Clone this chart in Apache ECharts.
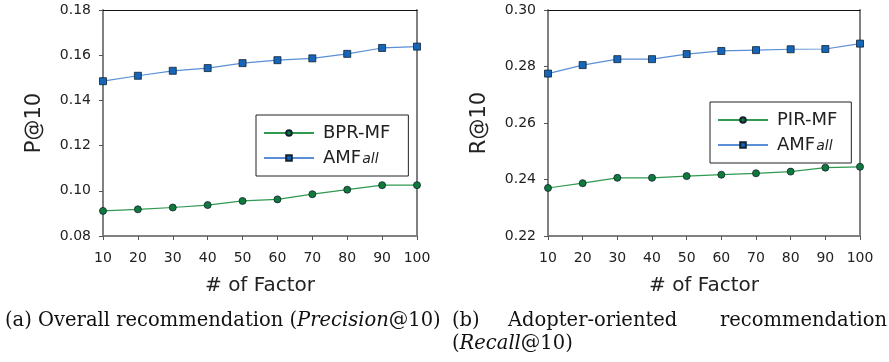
<!DOCTYPE html>
<html><head><meta charset="utf-8">
<script src="https://cdn.jsdelivr.net/npm/echarts@6/dist/echarts.min.js"></script>
<style>html,body{margin:0;padding:0;background:#fff}#c{width:889px;height:362px}</style>
</head><body><div id="c"></div>
<script>
const factors = [10,20,30,40,50,60,70,80,90,100];
const precBPR = [0.0911,0.0918,0.0926,0.0937,0.0955,0.0962,0.0985,0.1005,0.1025,0.1025];
const precAMF = [0.1485,0.1509,0.1531,0.1543,0.1565,0.1578,0.1586,0.1606,0.1632,0.1638];
const recPIR = [0.2370,0.2387,0.2406,0.2406,0.2412,0.2417,0.2422,0.2428,0.2442,0.2445];
const recAMF = [0.2775,0.2805,0.2826,0.2826,0.2844,0.2855,0.2858,0.2861,0.2862,0.2881];
const yTicksA = [0.08,0.10,0.12,0.14,0.16,0.18];
const yTicksB = [0.22,0.24,0.26,0.28,0.30];

const pairs = v => factors.map((f,i)=>[f,v[i]]);
const GREEN_LINE='#2f9a50', GREEN_FILL='#0f7a3a', BLUE_LINE='#5a8fd6', BLUE_FILL='#1565b8';
const SANS='"DejaVu Sans", sans-serif';
const SERIF='"DejaVu Serif", serif';
const CAP=19.5;

function xAx(gi){
  return {type:'value', gridIndex:gi, min:10, max:100, interval:10,
    name:'# of Factor', nameLocation:'middle', nameGap:40,
    nameTextStyle:{fontFamily:SANS,fontSize:20,color:'#222'},
    axisLine:{lineStyle:{color:'#808080',width:2}},
    axisTick:{show:true,length:4,lineStyle:{color:'#555',width:1}},
    axisLabel:{fontFamily:SANS,fontSize:14,color:'#222',margin:15},
    splitLine:{show:false}};
}
function xTop(gi){
  return {type:'value', gridIndex:gi, position:'top', min:10, max:100,
    axisLine:{show:true,lineStyle:{color:'#111',width:1}},
    axisTick:{show:false}, axisLabel:{show:false}, splitLine:{show:false}};
}
function yAx(gi,min,max,name){
  return {type:'value', gridIndex:gi, min:min, max:max, interval:0.02,
    name:name, nameLocation:'middle', nameGap:58,
    nameTextStyle:{fontFamily:SANS,fontSize:21,color:'#222'},
    axisLine:{show:true,lineStyle:{color:'#808080',width:2}},
    axisTick:{show:true,length:4,lineStyle:{color:'#555',width:1}},
    axisLabel:{fontFamily:SANS,fontSize:14,color:'#222',margin:12,
      formatter:v=>v.toFixed(2)},
    splitLine:{show:false}};
}
function yRight(gi,min,max){
  return {type:'value', gridIndex:gi, position:'right', min:min, max:max,
    axisLine:{show:true,lineStyle:{color:'#808080',width:2}},
    axisTick:{show:false}, axisLabel:{show:false}, splitLine:{show:false}};
}
function ser(name,data,xi,yi,lc,fc,sym){
  return {type:'line', name:name, xAxisIndex:xi, yAxisIndex:yi, data:data,
    symbol:sym, symbolSize:7, showSymbol:true,
    lineStyle:{color:lc,width:1.2}, itemStyle:{color:fc,borderColor:'#123',borderWidth:0.8},
    emphasis:{disabled:true}, animation:false};
}
const legendText = {fontFamily:SANS,fontSize:18,color:'#222',padding:[0,0,0,4],lineHeight:18,
  rich:{n:{fontFamily:SANS,fontSize:18,color:'#222',lineHeight:18},i:{fontFamily:SANS,fontSize:14,fontStyle:'italic',color:'#222',padding:[3,0,0,1],lineHeight:18}}};
const legFmt = n => n==='AMFall' ? '{n|AMF}{i|all}' : n;
const capStyle = (t,extra) => Object.assign({text:t,fontFamily:SERIF,fontSize:CAP,fill:'#111',verticalAlign:'middle',
  rich:{it:{fontFamily:SERIF,fontSize:CAP,fontStyle:'italic',fill:'#111'}}},extra||{});

const option = {
  backgroundColor:'#fff', animation:false,
  grid:[{left:103,top:10,width:314,height:226},{left:548,top:10,width:312,height:226}],
  xAxis:[xAx(0),xAx(1),xTop(0),xTop(1)],
  yAxis:[yAx(0,yTicksA[0],yTicksA[yTicksA.length-1],'P@10'),yAx(1,yTicksB[0],yTicksB[yTicksB.length-1],'R@10'),
         yRight(0,0.08,0.18),yRight(1,0.22,0.30)],
  legend:[
    {data:['BPR-MF','AMFall'], orient:'vertical', left:256, top:115, itemWidth:50, itemHeight:7, itemGap:7,
     padding:[9,18,9,7], borderColor:'#222', borderWidth:1, textStyle:legendText, formatter:legFmt, selectedMode:false},
    {data:['PIR-MF','AMFall'], orient:'vertical', left:710, top:102, itemWidth:50, itemHeight:7, itemGap:7,
     padding:[9,14,9,7], borderColor:'#222', borderWidth:1, textStyle:legendText, formatter:legFmt, selectedMode:false}
  ],
  series:[
    ser('BPR-MF',pairs(precBPR),0,0,GREEN_LINE,GREEN_FILL,'circle'),
    ser('AMFall',pairs(precAMF),0,0,BLUE_LINE,BLUE_FILL,'rect'),
    ser('PIR-MF',pairs(recPIR),1,1,GREEN_LINE,GREEN_FILL,'circle'),
    ser('AMFall',pairs(recAMF),1,1,BLUE_LINE,BLUE_FILL,'rect')
  ],
  graphic:[
    {type:'text',x:5,y:321,style:capStyle('(a) Overall recommendation ({it|Precision}@10)')},
    {type:'text',x:452,y:321,style:capStyle('(b)')},
    {type:'text',x:508,y:321,style:capStyle('Adopter-oriented')},
    {type:'text',x:887,y:321,style:capStyle('recommendation',{align:'right'})},
    {type:'text',x:452,y:344,style:capStyle('({it|Recall}@10)')}
  ]
};
const chart = echarts.init(document.getElementById('c'),null,{renderer:'canvas'});
chart.setOption(option);
</script></body></html>
